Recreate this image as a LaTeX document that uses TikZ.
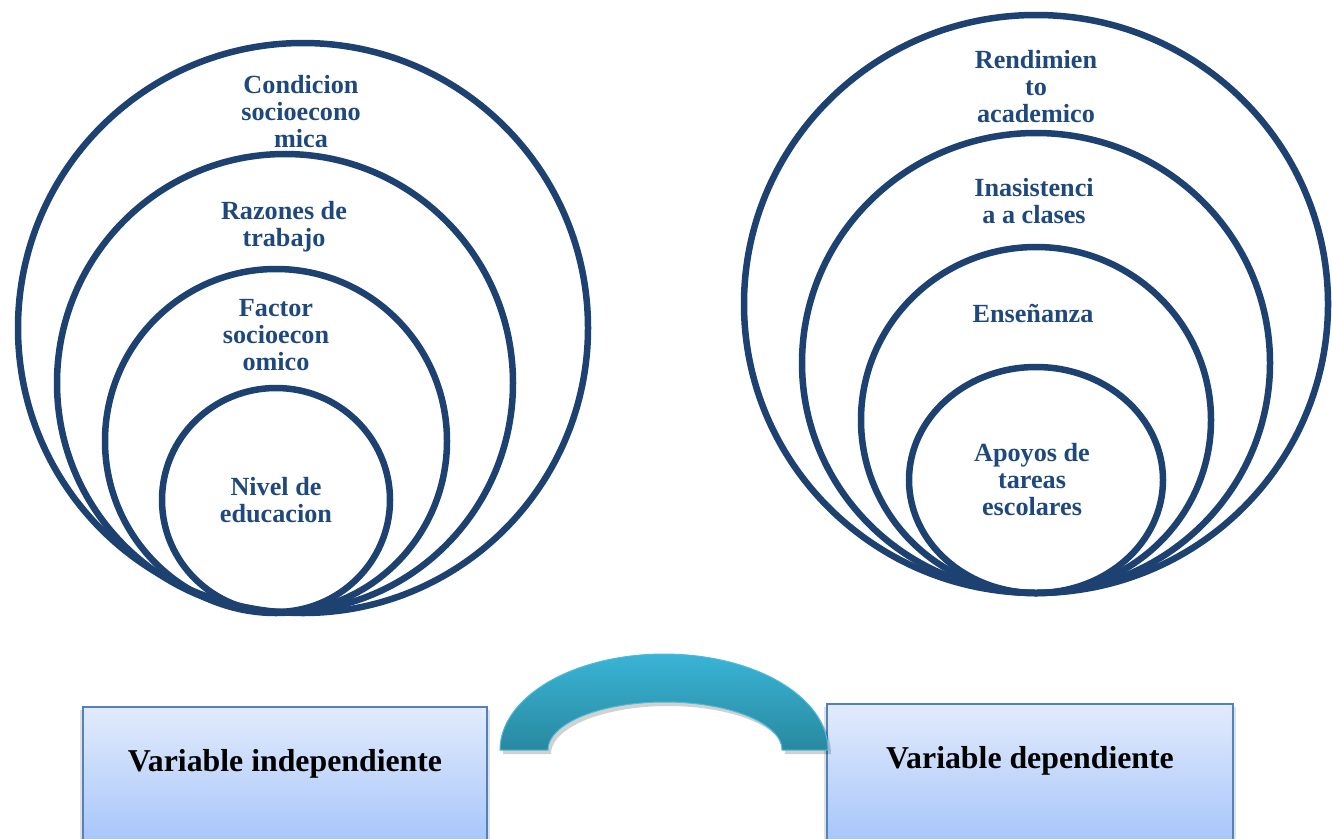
\documentclass[tikz,border=0pt]{standalone}
\usepackage{fontspec}
\setmainfont{Liberation Serif}
\definecolor{ringblue}{RGB}{29,65,112}
\definecolor{txtblue}{RGB}{31,73,125}
\definecolor{boxtop}{RGB}{226,235,252}
\definecolor{boxbot}{RGB}{166,197,250}
\definecolor{boxline}{RGB}{82,130,190}
\definecolor{archtop}{RGB}{58,180,214}
\definecolor{archbot}{RGB}{40,137,160}
\definecolor{archline}{RGB}{80,186,218}
\tikzset{
  ring/.style={draw=ringblue, line width=6.5pt},
  ringtext/.style={text=txtblue, align=center, font=\fontsize{26.2pt}{27pt}\selectfont\bfseries, inner sep=0pt},
  varbox/.style={draw=boxline, line width=1.8pt, top color=boxtop, bottom color=boxbot, shading angle=0},
  vartext/.style={text=black, font=\fontsize{31.8pt}{34pt}\selectfont\bfseries, inner sep=0pt, anchor=base},
  shadowfill/.style={fill=black, opacity=0.12}
}
\begin{document}
\begin{tikzpicture}[x=1pt,y=-1pt]
\useasboundingbox (0,0) rectangle (1332,838);
% left rings
\draw[ring] (303,328) ellipse [x radius=285pt, y radius=285pt];
\draw[ring] (285,383) ellipse [x radius=228pt, y radius=229pt];
\draw[ring] (276,441) ellipse [x radius=171pt, y radius=172pt];
\draw[ring] (276,500) ellipse [x radius=114pt, y radius=112pt];
\node[ringtext] (l1) at (301,112) {Condicion\\socioecono\\mica};
\node[ringtext] (l2) at (284,227) {Razones de\\trabajo};
\node[ringtext] (l3) at (276,335) {Factor\\socioecon\\omico};
\node[ringtext] (l4) at (276,500) {Nivel de\\educacion};
% right rings
\draw[ring] (1036,304) ellipse [x radius=292pt, y radius=289pt];
\draw[ring] (1036,363) ellipse [x radius=234pt, y radius=230pt];
\draw[ring] (1036,420) ellipse [x radius=175pt, y radius=173pt];
\draw[ring] (1036,480) ellipse [x radius=127pt, y radius=113pt];
\node[ringtext] (r1) at (1036,87) {Rendimien\\to\\academico};
\node[ringtext] (r2) at (1034,201) {Inasistenci\\a a clases};
\node[ringtext] (r3) at (1033,313) {Enseñanza};
\node[ringtext] (r4) at (1032,480) {Apoyos de\\tareas\\escolares};
% boxes
\fill[shadowfill] (80,710) rectangle (490,845);
\fill[shadowfill] (824,707) rectangle (1236,845);
\shade[varbox] (83,707) rectangle (487,845);
\shade[varbox] (827,704) rectangle (1233,845);
\node[vartext] (vi) at (285,771) {Variable independiente};
\node[vartext] (vd) at (1030,768) {Variable dependiente};
% arch
\fill[black, opacity=0.18] plot[domain=180:360, samples=80] ({667+164*cos(\x)}, {754+96*sin(\x)}) -- plot[domain=360:180, samples=80] ({668+117*cos(\x)}, {754+48*sin(\x)}) -- cycle;
\shade[top color=archtop, bottom color=archbot, draw=archline, line width=1pt]
  plot[domain=180:360, samples=80] ({664+164*cos(\x)}, {750+96*sin(\x)})
  -- plot[domain=360:180, samples=80] ({665+117*cos(\x)}, {750+48*sin(\x)}) -- cycle;
\end{tikzpicture}
\end{document}
